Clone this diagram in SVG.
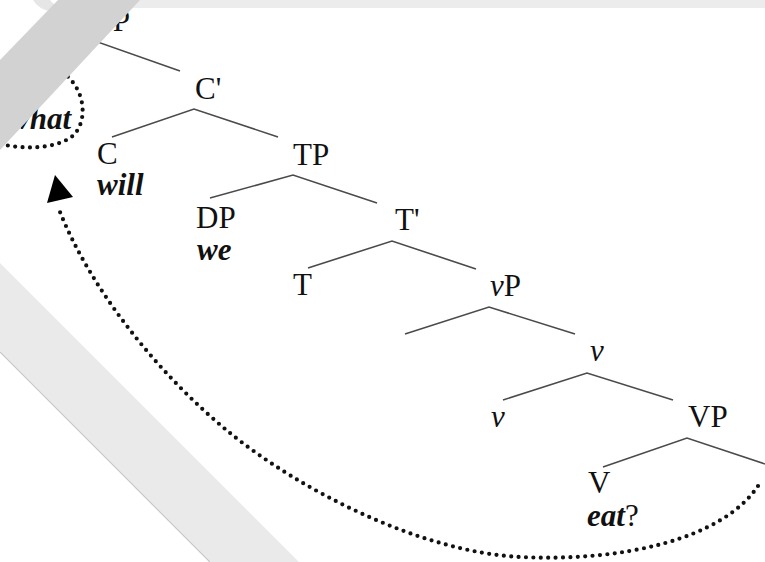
<svg xmlns="http://www.w3.org/2000/svg" width="765" height="562" viewBox="0 0 765 562">
<defs>
<style>
.lab{font-family:"Liberation Serif","Times New Roman",serif;font-size:31px;fill:#111}
.it{font-style:italic}
.word{font-family:"Liberation Serif","Times New Roman",serif;font-size:31px;font-weight:bold;font-style:italic;fill:#111}
.br{fill:none;stroke:#4a4a4a;stroke-width:1.6;stroke-linejoin:miter}
.dot{fill:none;stroke:#111;stroke-width:4.2;stroke-linecap:round;stroke-dasharray:0 7.4}
</style>
</defs>
<rect width="765" height="562" fill="#ffffff"/>
<g id="connectors">
<polyline class="br" points="40,70 95,41 180,71"/>
<polyline class="br" points="112,137 194,109 278,137"/>
<polyline class="br" points="210,198 293,175 377,203"/>
<polyline class="br" points="308,268 392,241 476,269"/>
<polyline class="br" points="405,334 489,307 575,334"/>
<polyline class="br" points="503,400 587,373 673,400"/>
<polyline class="br" points="603,467 687,438 765,464"/>
<path id="what-ring" class="dot" d="M62,72 C88,90 88,126 70,138 C52,149 24,150 -4,143"/>
<path id="movement" class="dot" d="M758,486 C722,540 620,562 520,557 C420,552 300,490 230,433 C160,376 90,290 58,207"/>
<polygon points="55,175 73,197 47,203" fill="#000"/>
</g>
<g id="n-CP"><text class="lab" x="92" y="31">CP</text></g>
<g id="n-what"><text class="word" x="71" y="129" text-anchor="end">what</text></g>
<g id="n-Cbar"><text class="lab" x="195" y="99">C'</text></g>
<g id="n-C"><text class="lab" x="97" y="164">C</text><text class="word" x="97" y="195">will</text></g>
<g id="n-TP"><text class="lab" x="293" y="165">TP</text></g>
<g id="n-DP"><text class="lab" x="196" y="228">DP</text><text class="word" x="197" y="260">we</text></g>
<g id="n-Tbar"><text class="lab" x="395" y="230">T'</text></g>
<g id="n-T"><text class="lab" x="293" y="295">T</text></g>
<g id="n-vP"><text class="lab" x="490" y="296"><tspan class="it">v</tspan>P</text></g>
<g id="n-vbar"><text class="lab it" x="590" y="361">v</text></g>
<g id="n-v"><text class="lab it" x="491" y="427">v</text></g>
<g id="n-VP"><text class="lab" x="688" y="427">VP</text></g>
<g id="n-V"><text class="lab" x="588" y="493">V</text><text class="lab" x="587" y="526"><tspan class="word">eat</tspan>?</text></g>
<g id="overlay">
<rect x="100" y="0" width="665" height="8" fill="#ececec"/>
<path d="M33,0 Q38,9 52,12 L62,8 Q53,5 50,0 Z" fill="#e6e6e6"/>
<polygon points="58,0 140,0 0,150 0,60" fill="#d2d2d2"/>
<polygon points="0,263 299,562 211,562 0,351" fill="#eaeaea"/>
<line x1="0" y1="352" x2="210" y2="562" stroke="#c6c6c6" stroke-width="1.2"/>
</g>
</svg>
